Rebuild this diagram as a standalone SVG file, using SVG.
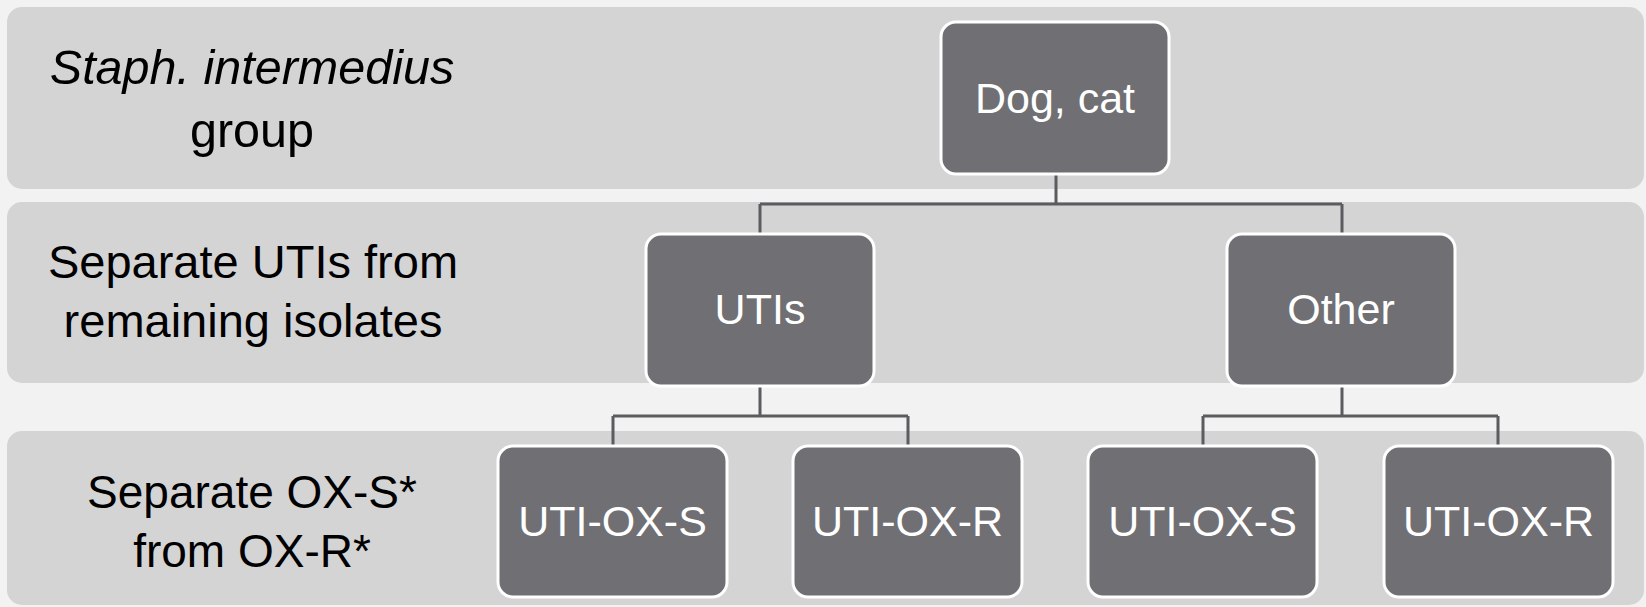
<svg xmlns="http://www.w3.org/2000/svg" width="1646" height="607" viewBox="0 0 1646 607">
  <style>
    .band { fill: #d4d4d4; }
    .node rect { fill: #706f74; stroke: #ffffff; stroke-width: 3; }
    .node text { fill: #ffffff; font-family: "Liberation Sans", Arial, sans-serif; font-size: 43px; text-anchor: middle; }
    .lbl { fill: #000000; font-family: "Liberation Sans", Arial, sans-serif; font-size: 46px; text-anchor: middle; }
    .lbl.l1 { font-size: 48.5px; }
    .lbl.l2 { font-size: 47px; }
    .conn { fill: none; stroke: #5b5b60; stroke-width: 3; }
  </style>
  <rect x="0" y="0" width="1646" height="607" fill="#f2f2f2"/>

  <g id="band1">
    <rect class="band" x="7" y="7" width="1637" height="182" rx="15"/>
    <text class="lbl l1" x="252" y="84" font-style="italic">Staph. intermedius</text>
    <text class="lbl l1" x="252" y="147">group</text>
  </g>
  <g id="band2">
    <rect class="band" x="7" y="202" width="1637" height="181" rx="15"/>
    <text class="lbl l2" x="253" y="278">Separate UTIs from</text>
    <text class="lbl l2" x="253" y="337">remaining isolates</text>
  </g>
  <g id="band3">
    <rect class="band" x="7" y="431" width="1637" height="174" rx="15"/>
    <text class="lbl" x="252" y="508">Separate OX-S*</text>
    <text class="lbl" x="252" y="567">from OX-R*</text>
  </g>

  <g id="connectors">
    <path class="conn" d="M1056,174 V204 M760,204 H1342 M760,204 V234 M1342,204 V234"/>
    <path class="conn" d="M760,386 V416 M613,416 H908 M613,416 V446 M908,416 V446"/>
    <path class="conn" d="M1342,386 V416 M1203,416 H1498 M1203,416 V446 M1498,416 V446"/>
  </g>

  <g id="node-dogcat" class="node">
    <rect x="941" y="22" width="228" height="152" rx="15"/>
    <text x="1055" y="113">Dog, cat</text>
  </g>
  <g id="node-utis" class="node">
    <rect x="646" y="234" width="228" height="152" rx="15"/>
    <text x="760" y="324">UTIs</text>
  </g>
  <g id="node-other" class="node">
    <rect x="1227" y="234" width="228" height="152" rx="15"/>
    <text x="1341" y="324">Other</text>
  </g>
  <g id="node-uti-ox-s-1" class="node">
    <rect x="498" y="446" width="229" height="151" rx="15"/>
    <text x="612.5" y="536">UTI-OX-S</text>
  </g>
  <g id="node-uti-ox-r-1" class="node">
    <rect x="793" y="446" width="229" height="151" rx="15"/>
    <text x="907.5" y="536">UTI-OX-R</text>
  </g>
  <g id="node-uti-ox-s-2" class="node">
    <rect x="1088" y="446" width="229" height="151" rx="15"/>
    <text x="1202.5" y="536">UTI-OX-S</text>
  </g>
  <g id="node-uti-ox-r-2" class="node">
    <rect x="1384" y="446" width="229" height="151" rx="15"/>
    <text x="1498.5" y="536">UTI-OX-R</text>
  </g>
</svg>
